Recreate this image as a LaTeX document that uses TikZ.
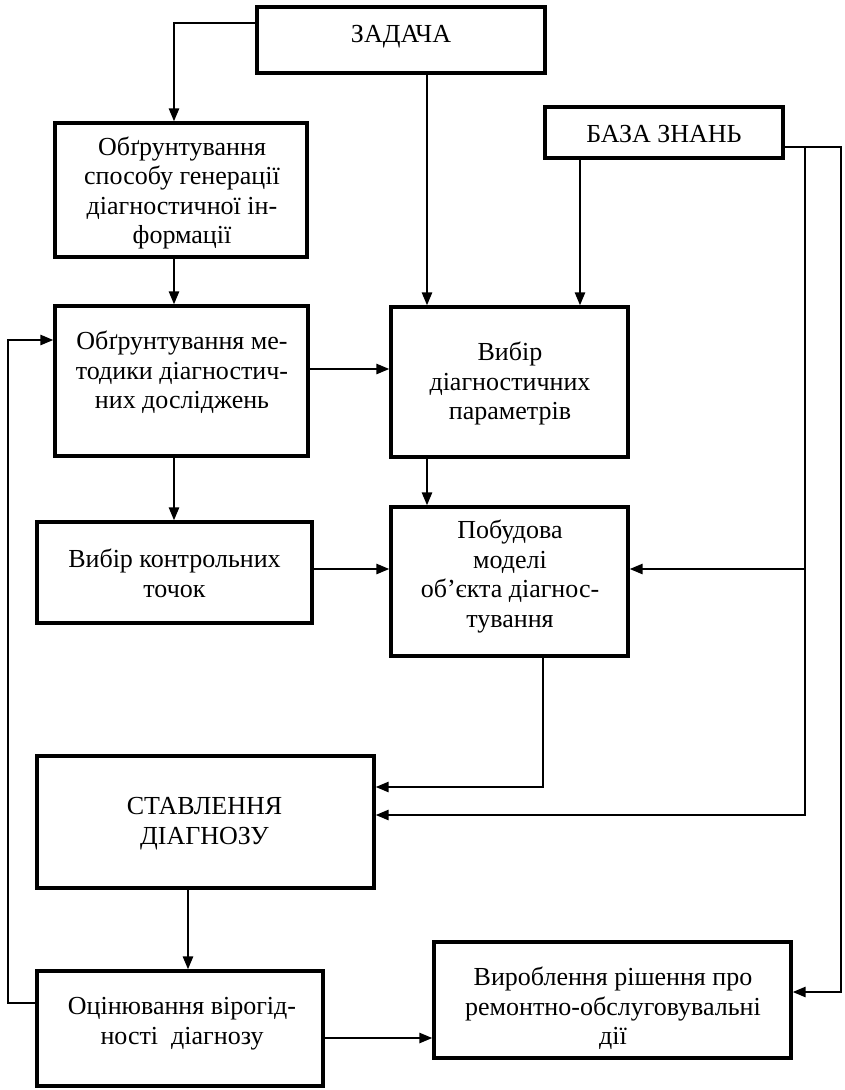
\documentclass[tikz,border=0pt]{standalone}
\usepackage{fontspec}
\setmainfont{Liberation Serif}
\usetikzlibrary{arrows.meta}
\begin{document}
\begin{tikzpicture}[x=1pt,y=-1pt,
  box/.style={draw,line width=3.2pt,inner sep=0pt},
  txt/.style={align=center,inner sep=0pt,
    font=\fontsize{26}{29.5}\selectfont},
  arr/.style={line width=2.5pt,-{Triangle[length=13pt,width=10pt]}}]
\useasboundingbox (0,0) rectangle (844,1090);
% boxes
\node[box,minimum width=288pt,minimum height=66pt] (zad) at (401,40) {};
\node[box,minimum width=252pt,minimum height=134pt] (obg) at (181,190) {};
\node[box,minimum width=238pt,minimum height=51pt] (baza) at (664,132.5) {};
\node[box,minimum width=253pt,minimum height=150pt] (met) at (181.5,381) {};
\node[box,minimum width=237pt,minimum height=150pt] (vyb) at (509.5,382) {};
\node[box,minimum width=275pt,minimum height=101pt] (kon) at (174.5,572.5) {};
\node[box,minimum width=237pt,minimum height=149pt] (pob) at (509.5,581.5) {};
\node[box,minimum width=337pt,minimum height=132pt] (sta) at (205.5,822) {};
\node[box,minimum width=286pt,minimum height=115pt] (oci) at (180,1028.5) {};
\node[box,minimum width=357pt,minimum height=116pt] (vyr) at (612.5,1000) {};
% texts
\node[txt] (zadT) at (401,37) {ЗАДАЧА};
\node[txt] (obgT) at (182,193)
  {Обґрунтування\\способу генерації\\діагностичної ін-\\формації};
\node[txt] (bazaT) at (664,134) {БАЗА ЗНАНЬ};
\node[txt] (metT) at (182,372.5)
  {Обґрунтування ме-\\тодики діагностич-\\них досліджень};
\node[txt] (vybT) at (510,383.5)
  {Вибір\\діагностичних\\параметрів};
\node[txt] (konT) at (174.5,573.5)
  {Вибір контрольних\\точок};
\node[txt] (pobT) at (510,576.5)
  {Побудова\\моделі\\об’єкта діагнос-\\тування};
\node[txt] (staT) at (204.5,823.5)
  {СТАВЛЕННЯ\\ДІАГНОЗУ};
\node[txt] (ociT) at (182,1023.5)
  {Оцінювання вірогід-\\ності~~діагнозу};
\node[txt] (vyrT) at (613,1008.5)
  {Вироблення рішення про\\ремонтно-обслуговувальні\\дії};
% connectors
\coordinate (a1) at (174,23);
\coordinate (a2) at (427,0);
\coordinate (a3) at (580,0);
\coordinate (r1) at (841,147);
\coordinate (r2) at (805,147);
\coordinate (r3) at (841,992);
\coordinate (r4) at (805,815);
\coordinate (r5) at (805,569);
\coordinate (m1) at (0,369);
\coordinate (k1) at (0,569);
\coordinate (p1) at (543,787);
\coordinate (s1) at (188,0);
\coordinate (f1) at (8,1003);
\coordinate (f2) at (8,340);
\coordinate (o1) at (0,1038);
\draw[arr] (zad.west |- a1) -| (obg.north -| a1);
\draw[arr] (zad.south -| a2) -- (vyb.north -| a2);
\draw[arr] (baza.south -| a3) -- (vyb.north -| a3);
\draw[arr] (baza.east |- r1) -- (r1) -- (r3) -- (vyr.east |- r3);
\draw[arr] (r2) -- (r4) -- (sta.east |- r4);
\draw[arr] (r5) -- (pob.east |- r5);
\draw[arr] (obg.south -| a1) -- (met.north -| a1);
\draw[arr] (met.east |- m1) -- (vyb.west |- m1);
\draw[arr] (met.south -| a1) -- (kon.north -| a1);
\draw[arr] (vyb.south -| a2) -- (pob.north -| a2);
\draw[arr] (kon.east |- k1) -- (pob.west |- k1);
\draw[arr] (pob.south -| p1) -- (p1) -- (sta.east |- p1);
\draw[arr] (sta.south -| s1) -- (oci.north -| s1);
\draw[arr] (oci.west |- f1) -- (f1) -- (f2) -- (met.west |- f2);
\draw[arr] (oci.east |- o1) -- (vyr.west |- o1);
\end{tikzpicture}
\end{document}
